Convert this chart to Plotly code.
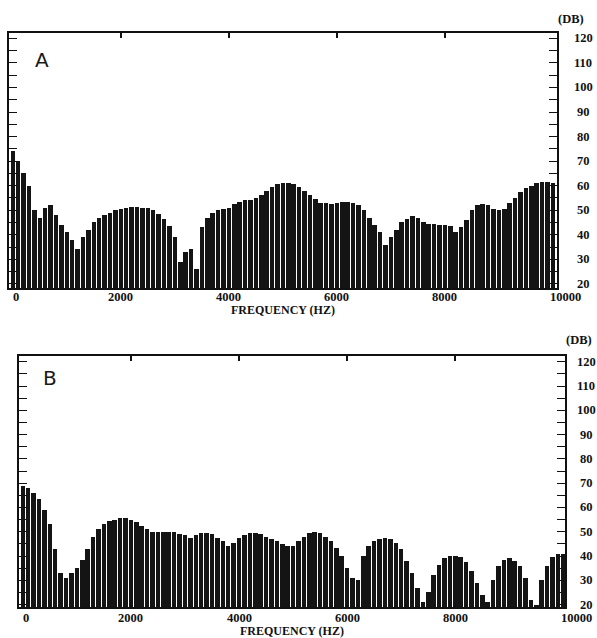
import plotly.graph_objects as go

freq_hz = list(range(0, 10001, 100))

spectrum_a_db = [
    74, 70, 65, 60, 50, 47, 51, 52, 48, 44,
    41, 38, 34, 39, 42, 45, 47, 48, 49, 50,
    50.5, 51, 51.5, 51.5, 51, 51, 50, 48.5, 46.5, 43.5,
    39, 29, 33, 34, 26, 43, 47, 49, 50, 50.5,
    51, 52.5, 53.5, 54, 54, 55, 56, 58, 59.5, 60.5,
    61, 61, 60.5, 59.5, 58, 56, 54.5, 53, 53, 52.5,
    53, 53.5, 53.5, 53, 52, 50, 47, 44, 41, 36,
    39, 42, 45, 46.5, 47.5, 47, 45, 44.5, 44.5, 44,
    44, 43.5, 41, 43, 46, 50, 52, 52.5, 52, 50.5,
    50, 50.5, 53, 55, 57.5, 59, 60, 61, 61.5, 61.5,
    61,
]

spectrum_b_db = [
    69, 68, 66, 63.5, 59, 53, 43, 33, 31, 33,
    35, 38.5, 43, 48, 51, 53, 54.5, 55, 55.5, 55.5,
    55, 54, 52.5, 51, 50, 50, 50, 50, 50, 49,
    48.5, 47.5, 48.5, 49.5, 49.5, 49, 47.5, 46, 44, 45.5,
    47.5, 48.5, 49.5, 49.5, 49, 48, 47, 46, 45, 44,
    44, 46, 48, 49.5, 50, 49.5, 48, 46, 43.5, 40,
    35, 31, 30, 40, 44, 46, 47, 47.5, 47, 45.5,
    43, 38, 33, 27, 21, 25, 32, 36.5, 39, 40,
    40, 39.5, 37.5, 34, 29, 24, 21, 30, 36, 38.5,
    39, 38, 36, 31, 22, 20, 30, 36, 39.5, 41,
    41,
]

x_tick_vals = [0, 2000, 4000, 6000, 8000, 10000]
x_tick_text = ["0", "2000", "4000", "6000", "8000", "10000"]
y_tick_vals = [20, 30, 40, 50, 60, 70, 80, 90, 100, 110, 120]
panel_labels = ["A", "B"]

W, H = 597, 638
serif_bold = dict(family="Liberation Serif", size=12.5, color="#111111")

fig = go.Figure()

panels = [
    dict(data=spectrum_a_db, xa="x", ya="y", xdom=(9, 557), ydom=(33, 288),
         xr=[-70, 10075], yr=[18.3, 122.2], label_xy=(42, 60), db_xy=(571, 19),
         xlab_y=297, title_y=310, ylab_x=583),
    dict(data=spectrum_b_db, xa="x2", ya="y2", xdom=(19, 565), ydom=(356, 607),
         xr=[-70, 10030], yr=[19.0, 122.4], label_xy=(50, 378), db_xy=(579, 340),
         xlab_y=618, title_y=631, ylab_x=586),
]

annotations = []
for i, p in enumerate(panels):
    fig.add_trace(go.Bar(
        x=freq_hz, y=p["data"], xaxis=p["xa"], yaxis=p["ya"],
        marker=dict(color="#141414", line=dict(width=0)),
        width=84, showlegend=False,
    ))
    sfx = "" if i == 0 else "2"
    fig.layout["xaxis" + sfx] = dict(
        domain=[p["xdom"][0] / W, p["xdom"][1] / W],
        anchor="y" + sfx, range=p["xr"],
        showline=True, linecolor="#111111", linewidth=1.5, mirror="ticks",
        ticks="inside", ticklen=5, tickwidth=1.5, tickcolor="#111111",
        tickvals=[2000, 4000, 6000, 8000], showticklabels=False,
        showgrid=False, zeroline=False, fixedrange=True,
    )
    fig.layout["yaxis" + sfx] = dict(
        domain=[1 - p["ydom"][1] / H, 1 - p["ydom"][0] / H],
        anchor="x" + sfx, range=p["yr"], side="right",
        showline=True, linecolor="#111111", linewidth=1.5, mirror="ticks",
        ticks="inside", ticklen=8, tickwidth=1.2, tickcolor="#111111",
        tickvals=y_tick_vals, showticklabels=False,
        minor=dict(dtick=5, tick0=0, ticks="inside", ticklen=8, tickwidth=1.2,
                   tickcolor="#111111", showgrid=False),
        showgrid=False, zeroline=False, fixedrange=True,
    )
    for v in y_tick_vals:
        annotations.append(dict(
            x=p["ylab_x"] / W, xref="paper", y=v, yref=p["ya"],
            text="<b>%d</b>" % v, showarrow=False, font=serif_bold,
            xanchor="center", yanchor="middle",
        ))
    for v, t in zip(x_tick_vals, x_tick_text):
        shift = 0
        if v == 0:
            shift = 3
        elif v == 10000:
            shift = 13
        annotations.append(dict(
            x=v, xref=p["xa"], y=1 - p["xlab_y"] / H, yref="paper",
            text="<b>%s</b>" % t, showarrow=False, xshift=shift,
            font=serif_bold, xanchor="center", yanchor="middle",
        ))
    annotations.append(dict(
        x=(p["xdom"][0] + p["xdom"][1]) / 2 / W, xref="paper",
        y=1 - p["title_y"] / H, yref="paper",
        text="<b>FREQUENCY (HZ)</b>", showarrow=False,
        font=dict(family="Liberation Serif", size=12, color="#111111"),
        xanchor="center", yanchor="middle",
    ))
    annotations.append(dict(
        x=p["db_xy"][0] / W, xref="paper", y=1 - p["db_xy"][1] / H, yref="paper",
        text="<b>(DB)</b>", showarrow=False, font=serif_bold,
        xanchor="center", yanchor="middle",
    ))
    annotations.append(dict(
        x=p["label_xy"][0] / W, xref="paper", y=1 - p["label_xy"][1] / H, yref="paper",
        text=panel_labels[i], showarrow=False,
        font=dict(family="DejaVu Sans", size=20, color="#1a1a1a"),
        xanchor="center", yanchor="middle",
    ))

fig.update_layout(
    width=W, height=H,
    margin=dict(l=0, r=0, t=0, b=0),
    paper_bgcolor="white", plot_bgcolor="white",
    bargap=0, annotations=annotations, showlegend=False,
)

fig.write_html("out.html", config={"displayModeBar": False},
               post_script="document.body.style.margin='0';")
